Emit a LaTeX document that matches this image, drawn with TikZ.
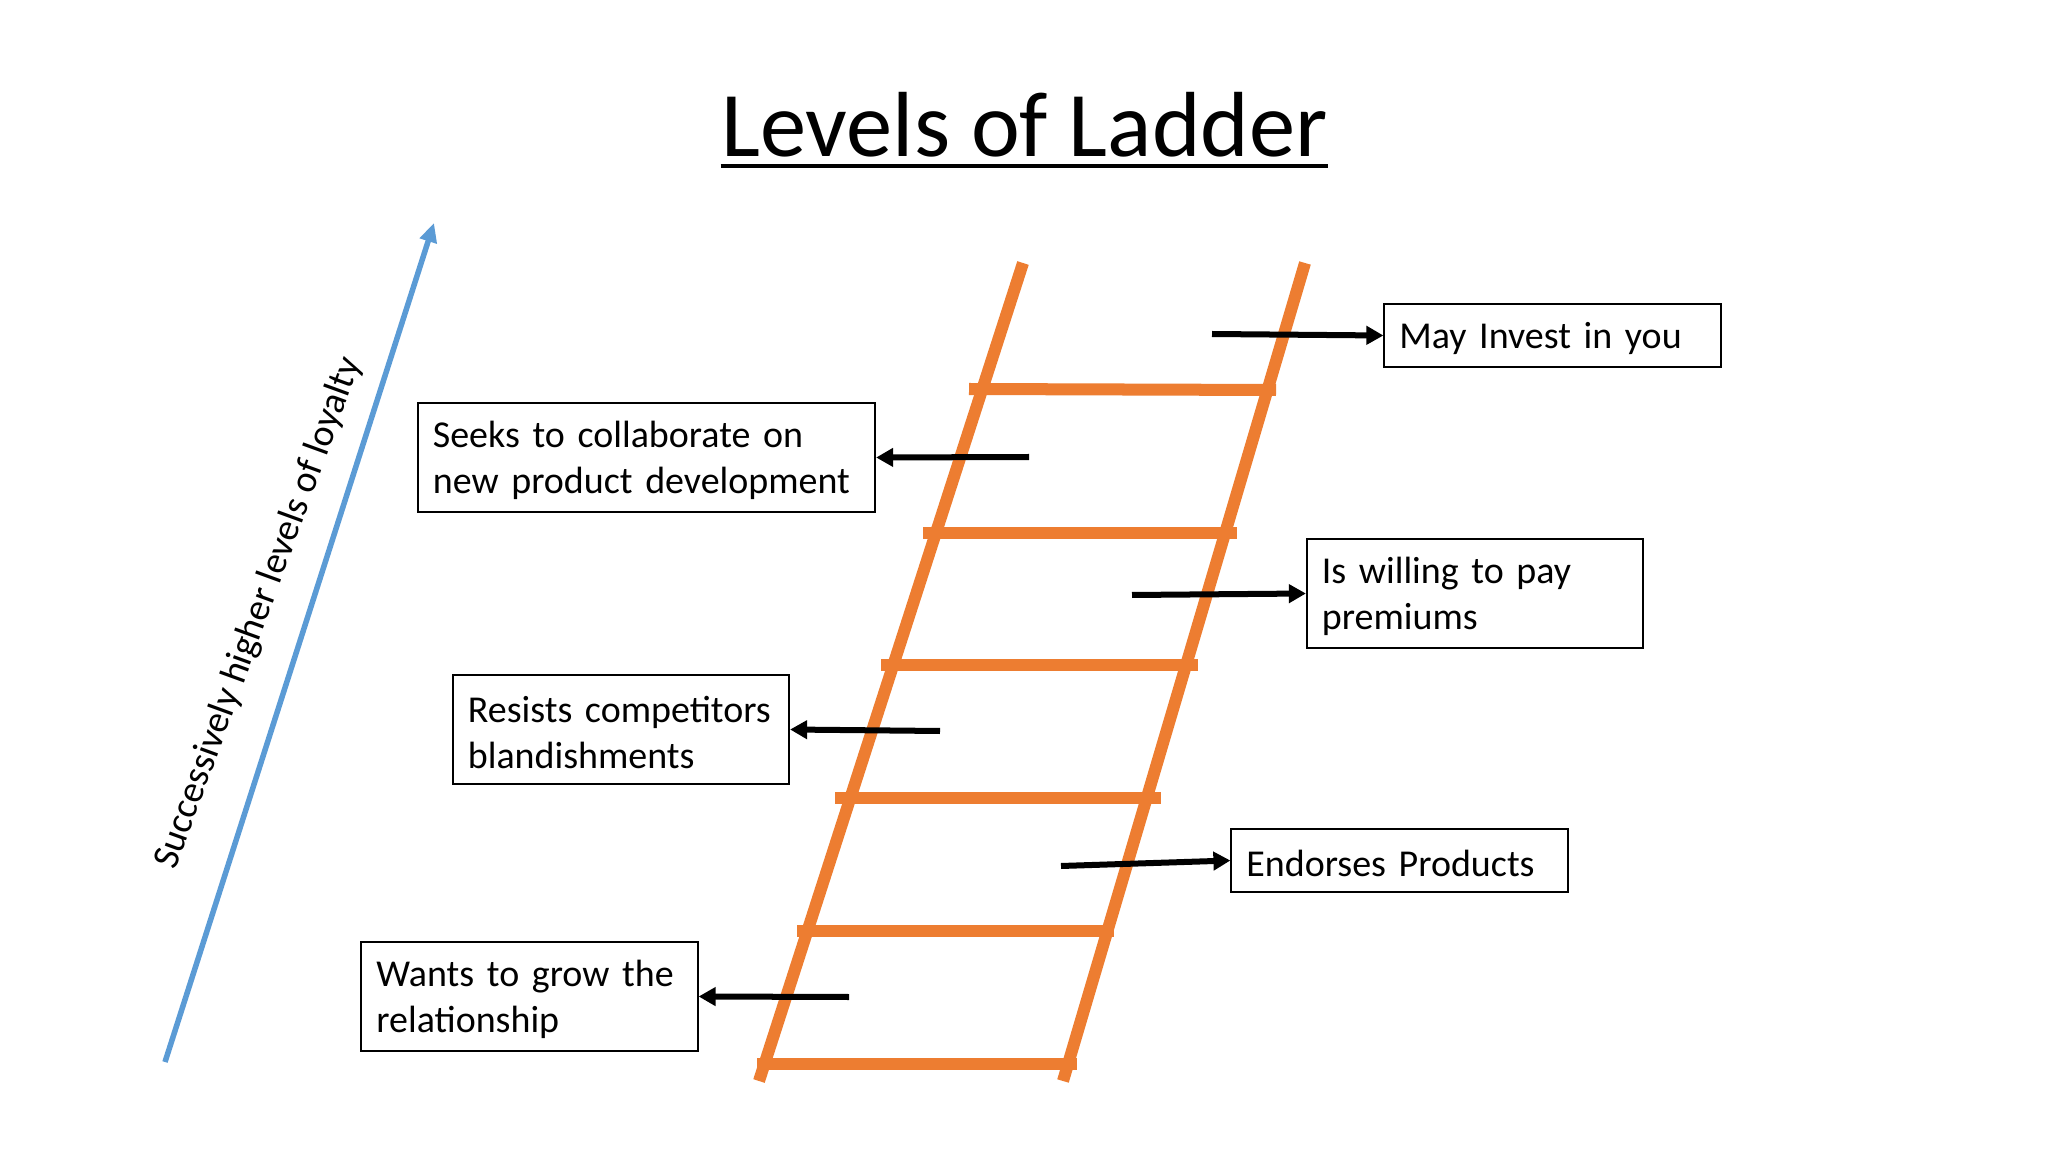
\documentclass[tikz,border=0pt]{standalone}
\usepackage{fontspec}
\setmainfont{Carlito}
\usetikzlibrary{arrows.meta}
\definecolor{ladderorange}{HTML}{ED7D31}
\definecolor{loyalblue}{HTML}{5B9BD5}
\begin{document}
\begin{tikzpicture}[x=0.01cm,y=-0.01cm,
  rail/.style={draw=ladderorange,line width=0.12cm},
  rung/.style={draw=ladderorange,line width=0.12cm},
  infobox/.style={draw=black,line width=0.02cm,align=left,inner xsep=0.15cm,inner ysep=0pt,
    text width=3.06cm,minimum height=1.08cm,font=\fontsize{10.8}{13.1}\selectfont,
    execute at begin node={\rule{0pt}{0.32cm}}},
  smallbox/.style={infobox,minimum height=0.63cm},
  pointer/.style={draw=black,line width=0.06cm,-{Triangle[length=0.17cm,width=0.18cm]}},
  loyalarrow/.style={draw=loyalblue,line width=0.055cm,-{Triangle[length=0.19cm,width=0.17cm]}},
]
\fill[white] (0,0) rectangle (2048,1152);
\useasboundingbox (0,0) rectangle (2048,1152);

% title
\node[anchor=base,inner sep=0pt,font=\fontsize{26.3}{32}\selectfont] (title) at (1024.5,157) {Levels of Ladder};
\draw[line width=0.04cm] ([yshift=-0.09cm]title.base west) -- ([yshift=-0.09cm]title.base east);

% loyalty arrow
\coordinate (loyalLow) at (165,1062);
\coordinate (loyalHigh) at (434,223);
\draw[loyalarrow] (loyalLow) -- (loyalHigh);
\node[rotate=70,inner sep=0pt,font=\fontsize{10.8}{13.1}\selectfont] (loyaltext) at (259,613) {Successively higher levels of loyalty};

% ladder
\draw[rail] (1023,263) -- (759,1081);
\draw[rail] (1305,263) -- (1063,1081);
\draw[rung] (969,389) -- (1276,390);
\draw[rung] (923,533) -- (1237,533);
\draw[rung] (881,665) -- (1198,665);
\draw[rung] (835,798) -- (1161,798);
\draw[rung] (797,931) -- (1114,931);
\draw[rung] (757,1064) -- (1077,1064);

% boxes
\node[smallbox] (invest) at (1552.5,335.5) {May Invest in you};
\node[infobox,text width=4.27cm] (seeks) at (646.5,457.5) {Seeks to collaborate on\\new product development};
\node[infobox] (willing) at (1475,593.5) {Is willing to pay\\premiums};
\node[infobox] (resists) at (621,729.5) {Resists competitors\\blandishments};
\node[smallbox] (endorses) at (1399.5,860.5) {Endorses Products};
\node[infobox] (wants) at (529.5,996.5) {Wants to grow the\\relationship};

% pointers
\coordinate (pInvest) at (1212,334);
\coordinate (pSeeks) at (1029,457);
\coordinate (pWilling) at (1132,595);
\coordinate (pResists) at (940,731);
\coordinate (pEndorse) at (1061,866);
\coordinate (pWants) at (849,997);
\draw[pointer] (pInvest) -- (invest.west);
\draw[pointer] (pSeeks) -- (seeks.east);
\draw[pointer] (pWilling) -- (willing.west);
\draw[pointer] (pResists) -- (resists.east);
\draw[pointer] (pEndorse) -- (endorses.west);
\draw[pointer] (pWants) -- (wants.east);
\end{tikzpicture}
\end{document}
